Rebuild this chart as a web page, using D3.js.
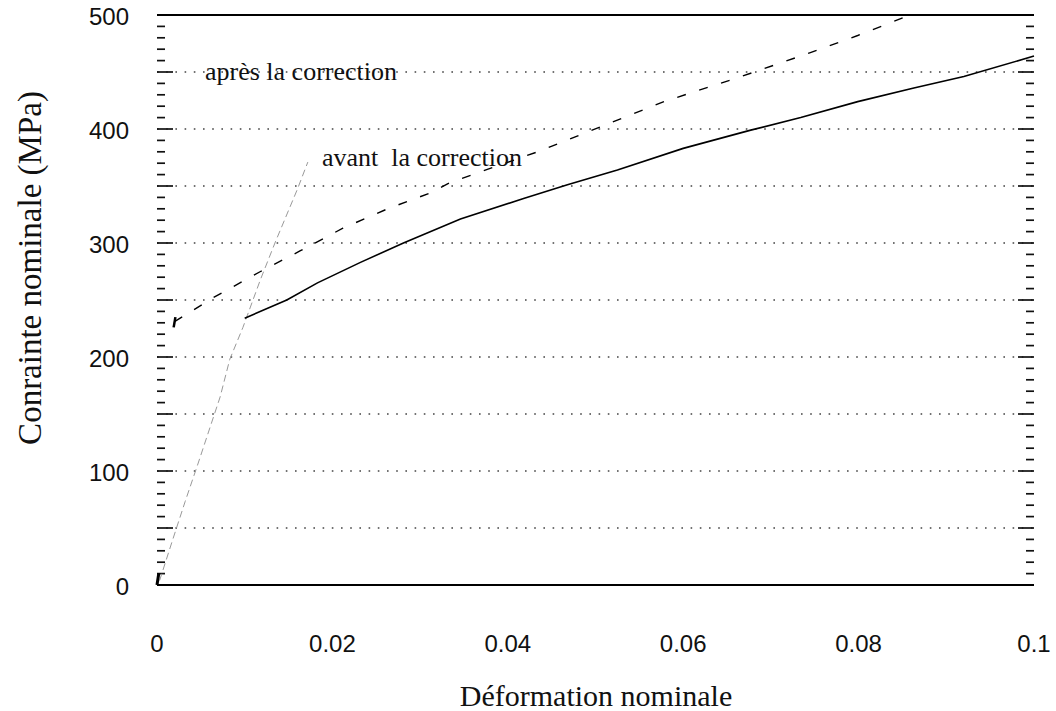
<!DOCTYPE html>
<html>
<head>
<meta charset="utf-8">
<script src="https://cdn.jsdelivr.net/npm/d3@7"></script>
<style>
  html, body { margin: 0; padding: 0; background: #fff; }
  svg { display: block; }
</style>
</head>
<body>
<svg id="chart" width="1056" height="711"></svg>
<script>
// Courbe contrainte–déformation nominale, avant et après correction
const xTicks = [0, 0.02, 0.04, 0.06, 0.08, 0.1];
const xTickLabels = ["0", "0.02", "0.04", "0.06", "0.08", "0.1"];
const yTicks = [0, 100, 200, 300, 400, 500];
const yGrid = [50, 100, 150, 200, 250, 300, 350, 400, 450];

// Courbe après correction (trait continu)
const apresStrain = [0.01, 0.0148, 0.0183, 0.0232, 0.0281, 0.0346, 0.0418, 0.0468, 0.0525, 0.06, 0.0677, 0.0734, 0.0799, 0.0863, 0.092, 0.1];
const apresStress = [234, 250, 265, 283, 300, 321, 339, 351, 364, 383, 399, 410, 424, 436, 446, 464];

// Courbe avant correction (tirets)
const avantStrain = [0.002, 0.0064, 0.0118, 0.0163, 0.0212, 0.0263, 0.0312, 0.0334, 0.0434, 0.0506, 0.0578, 0.0666, 0.0745, 0.0799, 0.0852, 0.0862];
const avantStress = [231, 252, 275, 293, 313, 330, 344, 353, 380, 402, 424, 446, 467, 482, 498, 500];

// Partie élastique (trait fin gris)
const elastStrain = [0.0003, 0.0018, 0.0032, 0.0047, 0.0072, 0.0083, 0.0098, 0.0118, 0.0135, 0.016, 0.0172];
const elastStress = [4, 40, 73, 107, 165, 198, 226, 268, 301, 347, 371];

// Amorces des courbes
const startApresStrain = [0, 0.0002];
const startApresStress = [0, 10];
const startAvantStrain = [0.0019, 0.0021];
const startAvantStress = [226, 235];

const xTitle = "Déformation nominale";
const yTitle = "Conrainte nominale (MPa)";
const labelApres = "après la correction";
const labelAvant = "avant  la correction";

const svg = d3.select("#chart");
const x = d3.scaleLinear().domain([0, 0.1]).range([157, 1034]);
const y = d3.scaleLinear().domain([0, 500]).range([585, 15]);

const zip = (xs, ys) => xs.map((v, i) => [v, ys[i]]);
const line = d3.line().x(d => x(d[0])).y(d => y(d[1]));

// Grille horizontale pointillée
svg.append("g").selectAll("line").data(yGrid).join("line")
  .attr("x1", x(0)).attr("x2", x(0.1))
  .attr("y1", d => y(d)).attr("y2", d => y(d))
  .attr("stroke", "#444").attr("stroke-width", 1.3)
  .attr("stroke-dasharray", "1.6,7.6");

// Cadre : traits haut et bas
svg.append("line").attr("x1", x(0)).attr("x2", x(0.1))
  .attr("y1", y(500)).attr("y2", y(500))
  .attr("stroke", "#000").attr("stroke-width", 2.2);
svg.append("line").attr("x1", x(0)).attr("x2", x(0.1))
  .attr("y1", y(0)).attr("y2", y(0))
  .attr("stroke", "#000").attr("stroke-width", 2.2);

// Graduations intérieures gauche et droite
const minor = d3.range(10, 500, 10);
const tickLen = d => (d % 50 === 0 ? 16 : 8);
svg.append("g").selectAll("line").data(minor).join("line")
  .attr("x1", x(0)).attr("x2", d => x(0) + tickLen(d))
  .attr("y1", d => y(d)).attr("y2", d => y(d))
  .attr("stroke", "#111").attr("stroke-width", 1.7);
svg.append("g").selectAll("line").data(minor).join("line")
  .attr("x1", x(0.1)).attr("x2", d => x(0.1) - tickLen(d))
  .attr("y1", d => y(d)).attr("y2", d => y(d))
  .attr("stroke", "#111").attr("stroke-width", 1.7);

// Étiquettes des axes
svg.append("g").selectAll("text").data(yTicks).join("text")
  .attr("x", 129).attr("y", d => y(d) + 4)
  .attr("text-anchor", "end").attr("dominant-baseline", "middle")
  .attr("font-family", "'Liberation Sans', Arial, sans-serif")
  .attr("font-size", 24).attr("fill", "#111")
  .text(d => d);
svg.append("g").selectAll("text").data(xTicks).join("text")
  .attr("x", d => x(d)).attr("y", 652)
  .attr("text-anchor", "middle")
  .attr("font-family", "'Liberation Sans', Arial, sans-serif")
  .attr("font-size", 24).attr("fill", "#111")
  .text((d, i) => xTickLabels[i]);

// Titres
svg.append("text").attr("x", 596).attr("y", 706)
  .attr("text-anchor", "middle")
  .attr("font-family", "'Liberation Serif', 'Times New Roman', serif")
  .attr("font-size", 30).attr("fill", "#111")
  .text(xTitle);
svg.append("text")
  .attr("transform", "translate(41,268) rotate(-90)")
  .attr("text-anchor", "middle")
  .attr("font-family", "'Liberation Serif', 'Times New Roman', serif")
  .attr("font-size", 33).attr("fill", "#111")
  .text(yTitle);

// Courbes
svg.append("path").attr("d", line(zip(elastStrain, elastStress)))
  .attr("fill", "none").attr("stroke", "#999").attr("stroke-width", 1)
  .attr("stroke-dasharray", "7,4");
svg.append("path").attr("d", line(zip(avantStrain, avantStress)))
  .attr("fill", "none").attr("stroke", "#000").attr("stroke-width", 1.4)
  .attr("stroke-dasharray", "9,14");
svg.append("path").attr("d", line(zip(apresStrain, apresStress)))
  .attr("fill", "none").attr("stroke", "#000").attr("stroke-width", 1.6);
svg.append("path").attr("d", line(zip(startApresStrain, startApresStress)))
  .attr("fill", "none").attr("stroke", "#000").attr("stroke-width", 3);
svg.append("path").attr("d", line(zip(startAvantStrain, startAvantStress)))
  .attr("fill", "none").attr("stroke", "#000").attr("stroke-width", 2.5);

// Annotations
svg.append("text").attr("x", 205).attr("y", 80)
  .attr("font-family", "'Liberation Serif', 'Times New Roman', serif")
  .attr("font-size", 26).attr("fill", "#111")
  .text(labelApres);
svg.append("text").attr("x", 322).attr("y", 166)
  .attr("font-family", "'Liberation Serif', 'Times New Roman', serif")
  .attr("font-size", 26).attr("fill", "#111")
  .attr("xml:space", "preserve").style("white-space", "pre")
  .text(labelAvant);
</script>
</body>
</html>
